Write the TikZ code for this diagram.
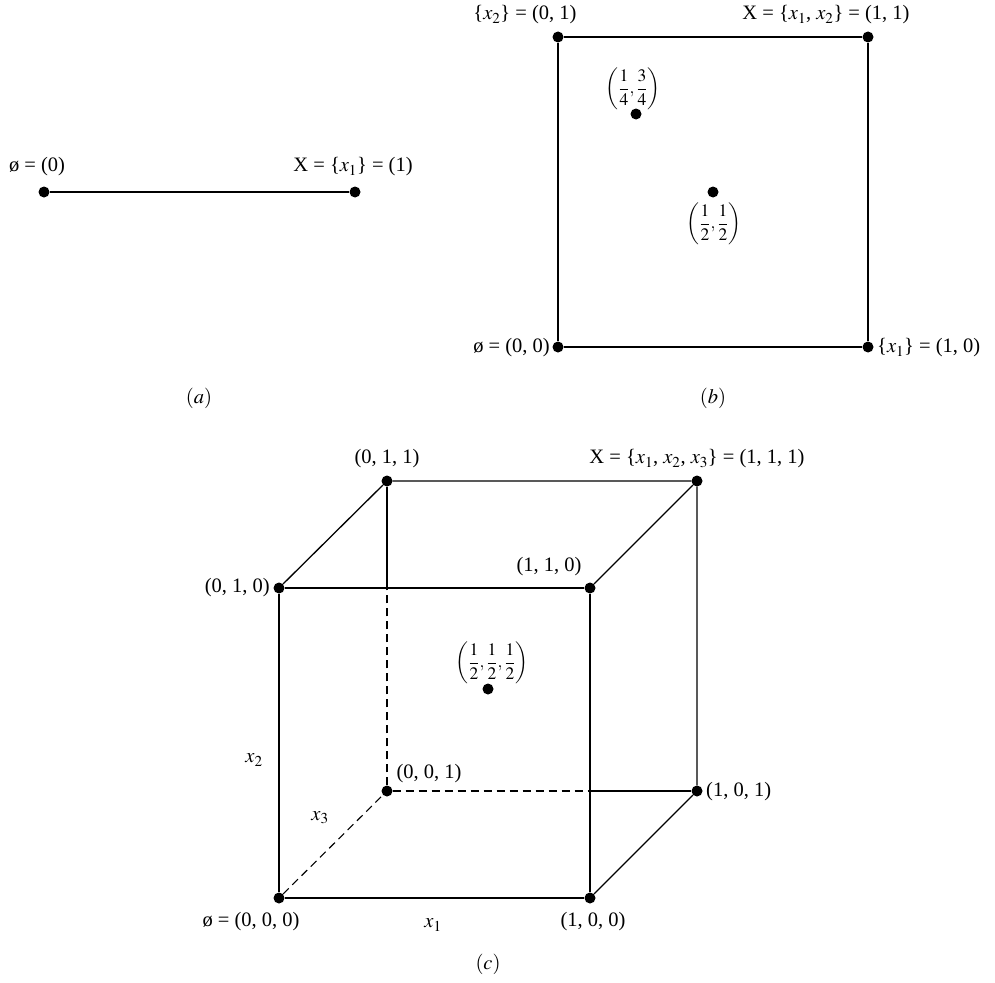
\documentclass[tikz,border=0pt]{standalone}
\usepackage{amsmath}
\usepackage{mathptmx}
\usepackage{fontspec}
\setmainfont{Liberation Serif}
\begin{document}
\begin{tikzpicture}[x=1pt,y=-1pt,
  edge/.style={line width=1.3pt},
  hidden/.style={line width=1.1pt,dash pattern=on 8pt off 5pt},
  dot/.style={circle,fill=black,inner sep=0pt,minimum size=11pt},
  lab/.style={inner sep=1pt,font=\fontsize{20.5}{24}\selectfont},
  flab/.style={inner sep=1pt,font=\fontsize{17.5}{21}\selectfont}]
\useasboundingbox (0,0) rectangle (995,982);
% ---------- (a) ----------
\node[dot] (a0) at (44,192) {};
\node[dot] (a1) at (355,192) {};
\draw[edge] (a0) -- (a1);
\node[lab] (la0) at (37,167) {ø = (0)};
\node[lab] (la1) at (353,167) {X = \{$x_1$\} = (1)};
\node[lab] (capa) at (199,398) {$(a)$};
% ---------- (b) ----------
\node[dot] (b00) at (558,347) {};
\node[dot] (b10) at (868,347) {};
\node[dot] (b01) at (558,37) {};
\node[dot] (b11) at (868,37) {};
\node[dot] (bq) at (636,114) {};
\node[dot] (bh) at (713,192) {};
\draw[edge] (b00) -- (b10) -- (b11) -- (b01) -- (b00);
\node[lab] (lb01) at (525,15) {\{$x_2$\} = (0, 1)};
\node[lab] (lb11) at (826,15) {X = \{$x_1$, $x_2$\} = (1, 1)};
\node[lab,anchor=east] (lb00) at (551,348) {ø = (0, 0)};
\node[lab,anchor=west] (lb10) at (876,348) {\{$x_1$\} = (1, 0)};
\node[flab] (lbq) at (633,89) {$\left(\dfrac{1}{4}, \dfrac{3}{4}\right)$};
\node[flab] (lbh) at (714,224) {$\left(\dfrac{1}{2}, \dfrac{1}{2}\right)$};
\node[lab] (capb) at (713,398) {$(b)$};
% ---------- (c) ----------
\node[dot] (c000) at (279,898) {};
\node[dot] (c100) at (590,898) {};
\node[dot] (c010) at (279,588) {};
\node[dot] (c110) at (590,588) {};
\node[dot] (c001) at (387,791) {};
\node[dot] (c101) at (697,791) {};
\node[dot] (c011) at (387,481) {};
\node[dot] (c111) at (697,481) {};
\node[dot] (cc) at (488,689) {};
\coordinate (hx) at (590,791);
\coordinate (vx) at (387,588);
% visible edges
\draw[edge] (c000) -- (c100) -- (c110) -- (c010) -- (c000);
\draw[edge] (c010) -- (c011) -- (c111) -- (c110);
\draw[edge] (c111) -- (c101) -- (c100);
\draw[edge] (hx) -- (c101);
\draw[edge] (c011) -- (vx);
% hidden edges
\draw[hidden] (c000) -- (c001);
\draw[hidden] (c001) -- (hx);
\draw[hidden] (c001) -- (vx);
% labels
\node[lab] (l011) at (387,459) {(0, 1, 1)};
\node[lab] (l111) at (697,459) {X = \{$x_1$, $x_2$, $x_3$\} = (1, 1, 1)};
\node[lab,anchor=east] (l010) at (271,588) {(0, 1, 0)};
\node[lab] (l110) at (549,567) {(1, 1, 0)};
\node[lab] (l001) at (429,774) {(0, 0, 1)};
\node[lab,anchor=west] (l101) at (705,792) {(1, 0, 1)};
\node[lab] (l000) at (251,922) {ø = (0, 0, 0)};
\node[lab] (l100) at (593,922) {(1, 0, 0)};
\node[lab] (lx1) at (433,925) {$x_1$};
\node[lab] (lx2) at (254,760) {$x_2$};
\node[lab] (lx3) at (320,818) {$x_3$};
\node[flab] (lcc) at (492,663) {$\left(\dfrac{1}{2}, \dfrac{1}{2}, \dfrac{1}{2}\right)$};
\node[lab] (capc) at (488,964) {$(c)$};
\end{tikzpicture}
\end{document}
